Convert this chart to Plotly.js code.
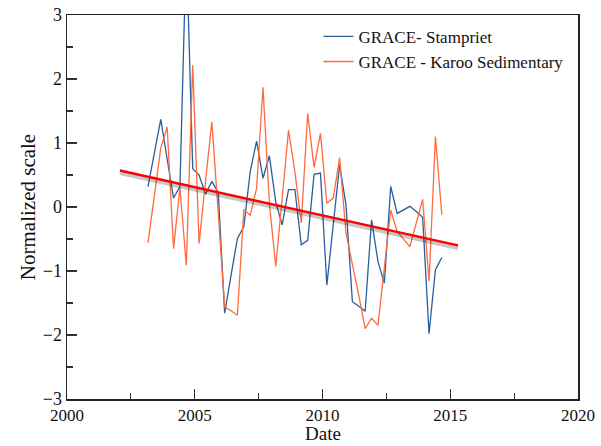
<!DOCTYPE html>
<html>
<head>
<meta charset="utf-8">
<script src="https://cdn.plot.ly/plotly-3.0.1.min.js"></script>
<style>html,body{margin:0;padding:0;background:#fff}#chart{width:601px;height:446px}</style>
</head>
<body>
<div id="chart"></div>
<script>
// Dates (decimal years)
const dates = [
  2003.17, 2003.42, 2003.67, 2003.92, 2004.17, 2004.42, 2004.67, 2004.92,
  2005.17, 2005.42, 2005.67, 2005.92, 2006.17, 2006.42, 2006.67, 2006.92,
  2007.17, 2007.42, 2007.67, 2007.92, 2008.17, 2008.42, 2008.67, 2008.92,
  2009.17, 2009.42, 2009.67, 2009.92, 2010.17, 2010.42, 2010.67, 2010.92,
  2011.17, 2011.42, 2011.67, 2011.92, 2012.17, 2012.42, 2012.67, 2012.92,
  2013.17, 2013.42, 2013.67, 2013.92, 2014.17, 2014.42, 2014.67
];
// GRACE - Stampriet
const stampriet = [
  0.32, 0.85, 1.37, 0.75, 0.14, 0.32, 4.1, 0.60,
  0.50, 0.20, 0.40, 0.22, -1.66, -1.07, -0.49, -0.31,
  0.55, 1.03, 0.45, 0.80, 0.08, -0.28, 0.27, 0.27,
  -0.59, -0.52, 0.51, 0.53, -1.22, -0.28, 0.66, 0.03,
  -1.48, -1.55, -1.63, -0.20, -0.85, -1.19, 0.32, -0.10,
  -0.04, 0.01, -0.07, -0.16, -1.98, -0.98, -0.79
];
// GRACE - Karoo Sedimentary
const karoo = [
  -0.56, 0.18, 0.92, 1.25, -0.65, 0.30, -0.91, 2.22,
  -0.57, 0.40, 1.33, -0.10, -1.56, -1.62, -1.69, -0.04,
  -0.13, 0.29, 1.87, 0.06, -0.93, 0.13, 1.20, 0.55,
  -0.25, 1.46, 0.62, 1.15, 0.06, 0.14, 0.77, -0.41,
  -0.87, -1.38, -1.90, -1.74, -1.85, -0.95, -0.05, -0.38,
  -0.50, -0.62, -0.25, 0.12, -1.16, 1.10, -0.12
];
// Linear trend end points
const trendX = [2002.07, 2015.3];
const trendY = [0.57, -0.60];

const xTicks = [2000, 2005, 2010, 2015, 2020];
const yTicks = [-3, -2, -1, 0, 1, 2, 3];

const serif = "Liberation Serif, Times New Roman, serif";
const shadowOffset = 0.04;

const traces = [
  {x: dates, y: stampriet, type: 'scatter', mode: 'lines', name: 'GRACE- Stampriet',
   line: {color: '#2a5d9c', width: 1.3}},
  {x: dates, y: karoo, type: 'scatter', mode: 'lines', name: 'GRACE - Karoo Sedimentary',
   line: {color: '#ff6a3f', width: 1.3}},
  {x: trendX, y: trendY.map(v => v - shadowOffset), type: 'scatter', mode: 'lines',
   showlegend: false, hoverinfo: 'skip', line: {color: 'rgba(0,0,0,0.22)', width: 4}},
  {x: trendX, y: trendY, type: 'scatter', mode: 'lines', showlegend: false,
   line: {color: '#ff0000', width: 2.4}}
];

const axisCommon = {
  showgrid: false, zeroline: false, showline: true, mirror: true,
  linecolor: '#222', linewidth: 1.5,
  ticks: 'inside', ticklen: 10, tickwidth: 1.3, tickcolor: '#333',
  tickfont: {family: serif, size: 18, color: '#111'}
};

const layout = {
  width: 601, height: 446,
  margin: {l: 67, r: 23, t: 15, b: 47},
  paper_bgcolor: '#fff', plot_bgcolor: '#fff',
  showlegend: true,
  legend: {x: 0.492, y: 0.99, xanchor: 'left', yanchor: 'top',
           bgcolor: 'rgba(0,0,0,0)', font: {family: serif, size: 17, color: '#111'},
           tracegroupgap: 0},
  xaxis: Object.assign({}, axisCommon, {
    range: [2000, 2020], tickvals: xTicks, ticktext: xTicks.map(String),
    ticklabelstandoff: 0,
    tickfont: {family: serif, size: 17, color: '#111'},
    minor: {dtick: 2.5, ticks: 'inside', ticklen: 6, tickcolor: '#333', tickwidth: 1.2}
  }),
  yaxis: Object.assign({}, axisCommon, {
    range: [-3, 3], tickvals: yTicks,
    minor: {dtick: 0.5, ticks: 'inside', ticklen: 6, tickcolor: '#333', tickwidth: 1.2},
    title: {text: 'Normalized scale', font: {family: serif, size: 21, color: '#111'}, standoff: 1}
  }),
  annotations: [{
    text: 'Date', xref: 'paper', yref: 'paper', x: 0.5, y: -0.1224,
    xanchor: 'center', yanchor: 'bottom', showarrow: false,
    font: {family: serif, size: 19, color: '#111'}
  }]
};

Plotly.newPlot('chart', traces, layout, {displayModeBar: false, staticPlot: true});
</script>
</body>
</html>
